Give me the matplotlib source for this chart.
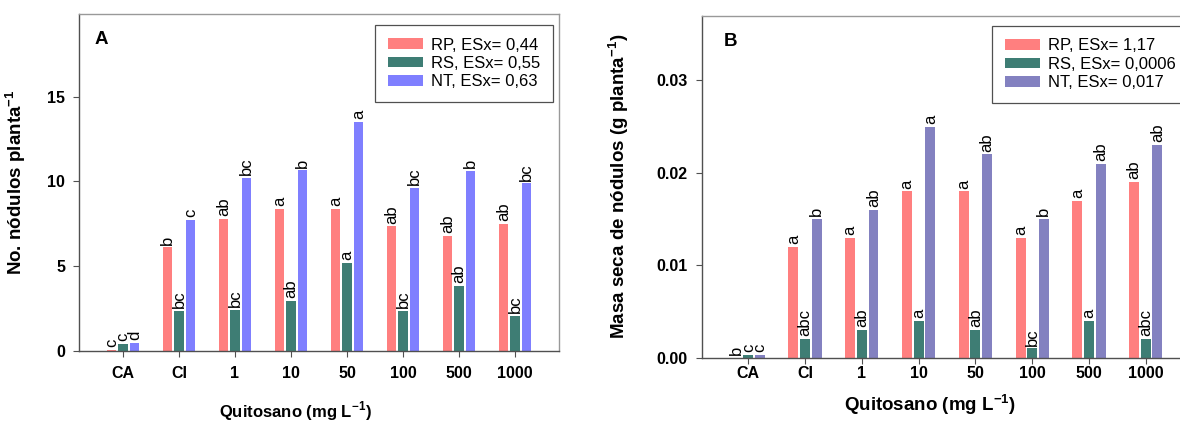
import numpy as np
import matplotlib
matplotlib.use('Agg')
import matplotlib.pyplot as plt
from matplotlib.patches import Patch

plt.rcParams['font.family'] = ['Liberation Sans', 'DejaVu Sans']
plt.rcParams['mathtext.fontset'] = 'custom'
plt.rcParams['mathtext.rm'] = 'Liberation Sans'
plt.rcParams['mathtext.bf'] = 'Liberation Sans:bold'

# ── data ────────────────────────────────────────────────────────────────
categories = ['CA', 'CI', '1', '10', '50', '100', '500', '1000']

# Panel A: No. nodulos planta-1
a_rp = [0.05, 6.1, 7.8, 8.4, 8.4, 7.35, 6.8, 7.5]
a_rs = [0.42, 2.35, 2.4, 2.95, 5.2, 2.35, 3.82, 2.05]
a_nt = [0.45, 7.75, 10.2, 10.65, 13.5, 9.62, 10.62, 9.88]
a_rp_let = ['c', 'b', 'ab', 'a', 'a', 'ab', 'ab', 'ab']
a_rs_let = ['c', 'bc', 'bc', 'ab', 'a', 'bc', 'ab', 'bc']
a_nt_let = ['d', 'c', 'bc', 'b', 'a', 'bc', 'b', 'bc']
a_legend = ['RP, ESx= 0,44', 'RS, ESx= 0,55', 'NT, ESx= 0,63']

# Panel B: masa seca de nodulos (g planta-1)
b_rp = [0.0, 0.012, 0.013, 0.018, 0.018, 0.013, 0.017, 0.019]
b_rs = [0.0003, 0.002, 0.003, 0.004, 0.003, 0.001, 0.004, 0.002]
b_nt = [0.0003, 0.015, 0.016, 0.025, 0.022, 0.015, 0.021, 0.023]
b_rp_let = ['b', 'a', 'a', 'a', 'a', 'a', 'a', 'ab']
b_rs_let = ['c', 'abc', 'ab', 'a', 'ab', 'bc', 'a', 'abc']
b_nt_let = ['c', 'b', 'ab', 'a', 'ab', 'b', 'ab', 'ab']
b_legend = ['RP, ESx= 1,17', 'RS, ESx= 0,0006', 'NT, ESx= 0,017']

RED = '#FF7F7F'
GREEN = '#3E7D74'
BLUE_A = '#7F7FFF'
BLUE_B = '#8381C0'

fig = plt.figure(figsize=(11.8, 4.23), dpi=100)
axA = fig.add_axes([0.0669, 0.171, 0.4068, 0.796])
axB = fig.add_axes([0.5947, 0.1544, 0.4158, 0.8085])

x = np.arange(len(categories))
off = 0.205
w = 0.175


def draw_panel(ax, series, letters, colors):
    for i, (vals, lets, c) in enumerate(zip(series, letters, colors)):
        xs = x + (i - 1) * off
        ax.bar(xs, vals, w, color=c, linewidth=0)
        for xi, v, t in zip(xs, vals, lets):
            ax.annotate(t, (xi, v), xytext=(0, 2), textcoords='offset points',
                        rotation=90, ha='center', va='bottom', fontsize=12)
    ax.set_xticks(x)
    ax.set_xticklabels(categories, fontweight='bold', fontsize=11.5)
    for s in ['left', 'bottom']:
        ax.spines[s].set_color('#505050')
    for s in ['top', 'right']:
        ax.spines[s].set_color('#999999')
    for s in ax.spines.values():
        s.set_linewidth(1.0)
    ax.tick_params(direction='out', length=4, width=0.8, color='#505050')
    ax.tick_params(axis='x', top=False)
    ax.tick_params(axis='y', right=False)
    return [Patch(facecolor=c, edgecolor='none') for c in colors]


leg_kw = dict(borderaxespad=0, fontsize=12, handlelength=2.1, handleheight=0.6,
              fancybox=False, framealpha=1, edgecolor='#505050',
              borderpad=0.75, labelspacing=0.2, handletextpad=0.5)

# Panel A
hA = draw_panel(axA, [a_rp, a_rs, a_nt], [a_rp_let, a_rs_let, a_nt_let],
                [RED, GREEN, BLUE_A])
axA.set_xlim(-0.786, 7.786)
axA.set_ylim(0, 19.9)
axA.set_yticks([0, 5, 10, 15])
axA.set_yticklabels(['0', '5', '10', '15'], fontweight='bold', fontsize=11.5)
axA.tick_params(axis='x', pad=7)
axA.tick_params(axis='y', pad=6)
legA = axA.legend(hA, a_legend, loc='upper right', bbox_to_anchor=(0.9875, 0.967), **leg_kw)
legA.get_frame().set_linewidth(0.9)
axA.text(0.046, 0.923, 'A', transform=axA.transAxes, fontsize=13.5,
         fontweight='bold', ha='center', va='center')
axA.set_ylabel(r'No. nódulos planta$^{\mathbf{-1}}$', fontsize=13.5, fontweight='bold')
axA.yaxis.set_label_coords(-0.106, 0.5)
axA.set_xlabel(r'Quitosano (mg L$^{\mathbf{-1}}$)', fontsize=12, fontweight='bold')
axA.xaxis.label.set_va('center')
axA.xaxis.set_label_coords(0.45, -0.179)

# Panel B
hB = draw_panel(axB, [b_rp, b_rs, b_nt], [b_rp_let, b_rs_let, b_nt_let],
                [RED, GREEN, BLUE_B])
axB.set_xlim(-0.82, 7.82)
axB.set_ylim(0, 0.037)
axB.set_yticks([0, 0.01, 0.02, 0.03])
axB.set_yticklabels(['0.00', '0.01', '0.02', '0.03'], fontweight='bold', fontsize=11.5)
axB.tick_params(axis='x', pad=2)
axB.tick_params(axis='y', pad=6)
legB = axB.legend(hB, b_legend, loc='upper left', bbox_to_anchor=(0.5916, 0.970), **leg_kw)
legB.get_frame().set_linewidth(0.9)
axB.text(0.058, 0.924, 'B', transform=axB.transAxes, fontsize=13.5,
         fontweight='bold', ha='center', va='center')
axB.set_ylabel(r'Masa seca de nódulos (g planta$^{\mathbf{-1}}$)', fontsize=13.5,
               fontweight='bold')
axB.yaxis.set_label_coords(-0.144, 0.5)
axB.set_xlabel(r'Quitosano (mg L$^{\mathbf{-1}}$)', fontsize=13.5, fontweight='bold')
axB.xaxis.label.set_va('center')
axB.xaxis.set_label_coords(0.465, -0.138)

fig.savefig('out.png', dpi=100)
